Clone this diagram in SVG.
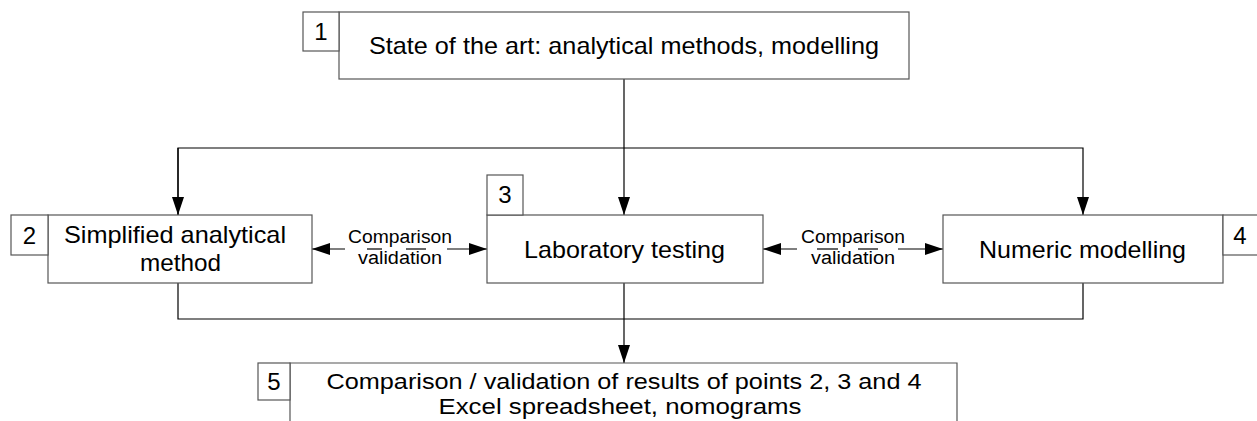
<svg xmlns="http://www.w3.org/2000/svg" width="1257" height="421" viewBox="0 0 1257 421">
<defs>
<style>
.box{fill:#fff;stroke:#555;stroke-width:1.2}
.ln{fill:none;stroke:#000;stroke-width:1.2}
.t{font-family:"Liberation Sans",Arial,sans-serif;fill:#000;text-anchor:middle}
.m{font-size:24px}
.b{font-size:22px}
.s{font-size:18px}
</style>
<marker id="ah" viewBox="0 0 18 12" markerWidth="18" markerHeight="12" refX="18" refY="6" orient="auto" markerUnits="userSpaceOnUse">
<path d="M0,0 L18,6 L0,12 Z" fill="#000"/>
</marker>
</defs>
<rect width="1257" height="421" fill="#fff"/>
<g id="connectors">
<line class="ln" x1="624" y1="79" x2="624" y2="215" marker-end="url(#ah)"/>
<polyline class="ln" points="178,215 178,148 1083,148 1083,215" marker-end="url(#ah)"/>
<line class="ln" x1="178" y1="148" x2="178" y2="215" marker-end="url(#ah)"/>
<polyline class="ln" points="178,283 178,319 1083,319 1083,283"/>
<line class="ln" x1="624" y1="283" x2="624" y2="363" marker-end="url(#ah)"/>
<line class="ln" x1="345" y1="249" x2="312" y2="249" marker-end="url(#ah)"/>
<line class="ln" x1="447" y1="249" x2="487" y2="249" marker-end="url(#ah)"/>
<line class="ln" x1="367" y1="249" x2="382" y2="249"/>
<line class="ln" x1="406" y1="249" x2="426" y2="249"/>
<line class="ln" x1="797" y1="249" x2="763" y2="249" marker-end="url(#ah)"/>
<line class="ln" x1="898" y1="249" x2="943" y2="249" marker-end="url(#ah)"/>
<line class="ln" x1="817" y1="249" x2="838" y2="249"/>
<line class="ln" x1="858" y1="249" x2="878" y2="249"/>
<text class="t s" x="400" y="243" textLength="104" lengthAdjust="spacingAndGlyphs">Comparison</text>
<text class="t s" x="400" y="264" textLength="84" lengthAdjust="spacingAndGlyphs">validation</text>
<text class="t s" x="853" y="243" textLength="104" lengthAdjust="spacingAndGlyphs">Comparison</text>
<text class="t s" x="853" y="264" textLength="84" lengthAdjust="spacingAndGlyphs">validation</text>
</g>
<g id="node1">
<rect class="box" x="339" y="12" width="570" height="67"/>
<rect class="box" x="303" y="12" width="36" height="39"/>
<text class="t m" x="321" y="40">1</text>
<text class="t m" x="624" y="54" textLength="510" lengthAdjust="spacingAndGlyphs">State of the art: analytical methods, modelling</text>
</g>
<g id="node2">
<rect class="box" x="48" y="215" width="264" height="68"/>
<rect class="box" x="11" y="215" width="37" height="40"/>
<text class="t m" x="29.5" y="244">2</text>
<text class="t m" x="175" y="243" textLength="222" lengthAdjust="spacingAndGlyphs">Simplified analytical</text>
<text class="t m" x="180.5" y="271" textLength="81" lengthAdjust="spacingAndGlyphs">method</text>
</g>
<g id="node3">
<rect class="box" x="487" y="215" width="276" height="68"/>
<rect class="box" x="487" y="175" width="36" height="40"/>
<text class="t m" x="505" y="203">3</text>
<text class="t m" x="624.5" y="258" textLength="201" lengthAdjust="spacingAndGlyphs">Laboratory testing</text>
</g>
<g id="node4">
<rect class="box" x="943" y="215" width="280" height="68"/>
<rect class="box" x="1223" y="215" width="40" height="40"/>
<text class="t m" x="1240" y="244">4</text>
<text class="t m" x="1082.5" y="258" textLength="207" lengthAdjust="spacingAndGlyphs">Numeric modelling</text>
</g>
<g id="node5">
<path class="box" d="M290,425 L290,363 L957,363 L957,425"/>
<rect class="box" x="258" y="363" width="32" height="37"/>
<text class="t m" x="274" y="390">5</text>
<text class="t b" x="624" y="389" textLength="595" lengthAdjust="spacingAndGlyphs">Comparison / validation of results of points 2, 3 and 4</text>
<text class="t b" x="620" y="414" textLength="363" lengthAdjust="spacingAndGlyphs">Excel spreadsheet, nomograms</text>
</g>
</svg>
